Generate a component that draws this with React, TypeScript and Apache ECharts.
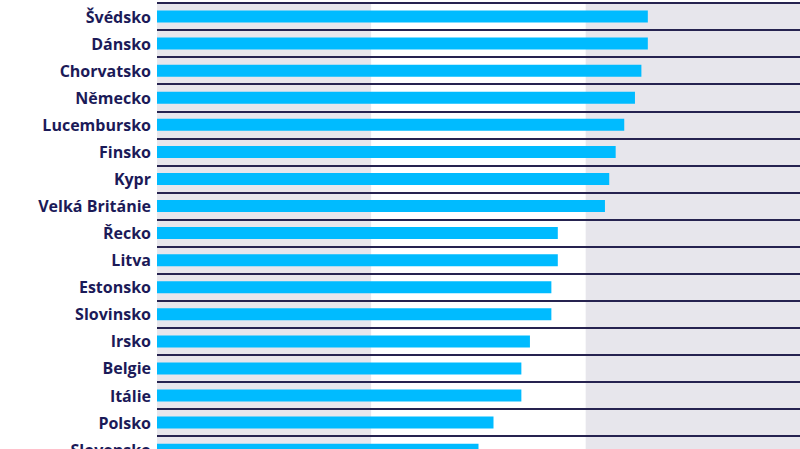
import { useEffect, useRef } from "react";
import * as echarts from "echarts";

const COUNTRIES = [
  "Švédsko",
  "Dánsko",
  "Chorvatsko",
  "Německo",
  "Lucembursko",
  "Finsko",
  "Kypr",
  "Velká Británie",
  "Řecko",
  "Litva",
  "Estonsko",
  "Slovinsko",
  "Irsko",
  "Belgie",
  "Itálie",
  "Polsko",
  "Slovensko",
];

const VALUES = [22.9, 22.9, 22.6, 22.3, 21.8, 21.4, 21.1, 20.9, 18.7, 18.7, 18.4, 18.4, 17.4, 17.0, 17.0, 15.7, 15.0];

const NAVY = "#1b1a58";
const ROW = 27.07;

export default function App() {
  const chartRef = useRef<HTMLDivElement>(null);

  useEffect(() => {
    if (!chartRef.current) return;
    const chart = echarts.init(chartRef.current, null, { renderer: "svg" });

    chart.setOption({
      animation: false,
      backgroundColor: "#ffffff",
      grid: {
        left: 157,
        right: -3,
        top: 3,
        height: ROW * COUNTRIES.length,
      },
      xAxis: {
        type: "value",
        min: 0,
        max: 30,
        interval: 10,
        z: 0,
        axisLine: { show: false },
        axisTick: { show: false },
        axisLabel: { show: false },
        splitLine: { show: false },
        splitArea: {
          show: true,
          areaStyle: { color: ["#e7e6ec", "#ffffff"] },
        },
      },
      yAxis: {
        type: "category",
        inverse: true,
        data: COUNTRIES,
        z: 5,
        axisLine: { show: false },
        axisTick: { show: false },
        axisLabel: {
          color: NAVY,
          fontSize: 16,
          fontWeight: 700,
          fontFamily: "Open Sans",
          margin: 6,
        },
        splitLine: {
          show: true,
          interval: 0,
          lineStyle: { color: "#262350", width: 2 },
        },
      },
      series: [
        {
          type: "bar",
          data: VALUES,
          barWidth: 12,
          z: 6,
          itemStyle: { color: "#00bbff" },
        },
      ],
    });

    return () => chart.dispose();
  }, []);

  return (
    <div style={{ position: "fixed", left: 0, top: 0, width: 800, height: 449, overflow: "hidden" }}>
      <div ref={chartRef} style={{ width: 800, height: 3 + ROW * COUNTRIES.length + 4 }} />
    </div>
  );
}
